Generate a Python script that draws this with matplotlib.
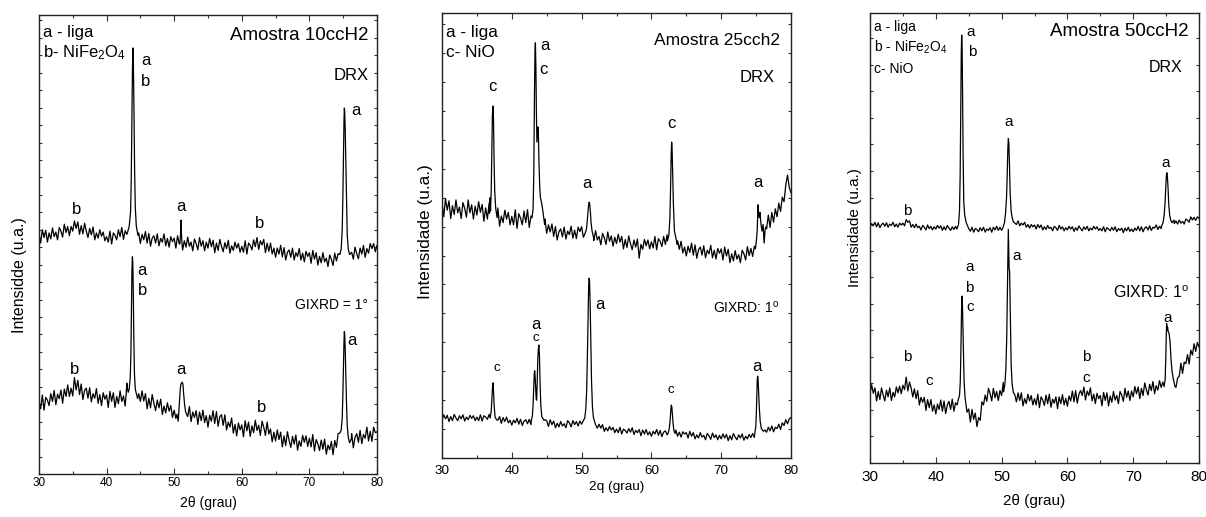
import numpy as np
import matplotlib
matplotlib.use("Agg")
import matplotlib.pyplot as plt
from matplotlib.ticker import MultipleLocator

plt.rcParams['font.family'] = ['Liberation Sans', 'DejaVu Sans']
plt.rcParams['mathtext.fontset'] = 'custom'
plt.rcParams['mathtext.rm'] = 'Liberation Sans'
plt.rcParams['mathtext.it'] = 'Liberation Sans:italic'
plt.rcParams['mathtext.bf'] = 'Liberation Sans:bold'

# ---------------- data ----------------
# background samples every 0.25 deg from 30 to 80 (2theta), intensity in arbitrary units
GRID_START = 30.0
GRID_STEP = 0.25

# Panel 1 - Amostra 10ccH2, DRX (upper trace)
p1_drx_bg = [
    52.4, 50.3, 53.2, 51.5, 53.1, 50.5, 52.5, 51.2, 53.6, 51.7, 52.7, 51.0, 53.7, 52.9, 51.6, 54.4, 52.6, 53.9, 51.9, 53.9,
    52.9, 55.1, 53.5, 54.9, 52.2, 54.1, 52.3, 54.6, 52.9, 51.5, 53.5, 52.1, 53.8, 51.0, 52.5, 51.4, 53.2, 51.8, 52.7, 50.8,
    51.7, 50.5, 52.9, 50.1, 52.5, 52.0, 51.0, 53.2, 51.7, 53.7, 51.1, 53.0, 52.2, 53.0, 53.0, 53.0, 53.0, 53.0, 53.0, 52.5,
    50.2, 52.2, 51.0, 52.8, 50.3, 52.4, 49.6, 51.4, 51.9, 50.3, 52.3, 49.7, 51.3, 50.5, 52.3, 49.7, 51.3, 49.4, 51.7, 50.6,
    51.4, 49.2, 51.9, 50.1, 51.6, 48.8, 50.8, 49.4, 51.6, 49.6, 50.5, 48.6, 51.2, 50.2, 48.8, 51.5, 49.6, 50.8, 48.6, 50.5,
    49.2, 51.3, 49.5, 50.9, 48.2, 50.3, 48.7, 51.1, 49.6, 48.4, 50.4, 49.1, 50.9, 48.1, 49.7, 48.7, 50.5, 49.2, 50.2, 48.3,
    49.6, 48.3, 50.8, 47.9, 50.3, 49.8, 48.8, 51.0, 49.5, 51.5, 48.9, 50.8, 49.9, 51.1, 48.2, 50.3, 48.5, 50.3, 47.9, 49.2,
    47.2, 49.2, 47.9, 49.8, 47.3, 49.3, 46.6, 48.3, 48.8, 47.2, 49.2, 46.6, 48.2, 47.4, 49.1, 46.6, 48.1, 46.2, 48.5, 47.4,
    48.2, 45.9, 48.7, 46.8, 48.2, 45.5, 47.4, 46.0, 48.2, 46.2, 47.0, 45.2, 47.7, 46.8, 45.4, 48.1, 46.4, 48.0, 48.0, 49.0,
    48.5, 50.0, 52.0, 48.0, 47.3, 48.3, 46.8, 49.4, 48.0, 46.9, 49.2, 47.9, 49.8, 47.2, 49.1, 48.1, 50.2, 49.1, 50.2, 48.4,
    49.8,
]
p1_drx_peaks = [
    ([43.1, 43.35, 43.55, 43.65, 43.75, 43.83, 43.9, 43.97, 44.05, 44.15, 44.25, 44.4, 44.65],
     [52.6, 54.0, 57.0, 64.0, 78.0, 88.0, 92.8, 89.0, 80.0, 66.0, 58.0, 54.0, 52.0]),
    ([50.85, 50.95, 51.0, 51.05, 51.15],
     [50.2, 52.5, 55.3, 53.0, 50.4]),
    ([74.5, 74.7, 74.85, 74.95, 75.05, 75.12, 75.17, 75.22, 75.3, 75.4, 75.5, 75.6, 75.75, 75.95, 76.2],
     [47.8, 49.0, 53.0, 60.0, 70.0, 77.0, 79.7, 79.0, 75.0, 67.0, 58.0, 52.0, 49.0, 47.8, 48.2]),
]

# Panel 1 - GIXRD = 1 deg (lower trace)
p1_gix_bg = [
    15.8, 14.2, 17.2, 13.9, 16.7, 16.1, 14.9, 17.5, 15.8, 18.2, 15.1, 17.4, 16.4, 18.3, 15.4, 18.5, 16.9, 19.4, 16.9, 18.7,
    17.0, 21.0, 18.3, 20.4, 17.3, 19.6, 16.2, 18.2, 18.7, 16.5, 18.8, 15.7, 17.5, 16.5, 18.6, 15.4, 17.3, 14.9, 17.7, 16.3,
    17.2, 14.5, 18.0, 15.8, 17.7, 14.5, 16.9, 15.3, 18.1, 15.8, 17.0, 14.8, 17.0, 17.0, 17.0, 17.0, 17.0, 17.0, 17.0, 17.5,
    15.8, 18.1, 15.9, 17.5, 14.2, 16.5, 14.4, 17.3, 15.4, 13.8, 16.1, 14.4, 16.3, 13.0, 14.8, 13.3, 15.5, 13.7, 14.9, 12.3,
    13.9, 12.1, 15.0, 17.0, 19.0, 19.5, 19.0, 17.0, 12.5, 14.7, 11.4, 13.5, 12.3, 13.8, 10.8, 13.5, 11.6, 13.9, 11.2, 12.7,
    10.2, 12.8, 11.5, 13.8, 11.0, 13.6, 10.4, 12.5, 12.9, 10.6, 12.9, 9.6, 11.3, 10.2, 12.2, 8.9, 10.8, 8.3, 11.1, 9.6,
    10.7, 8.1, 11.6, 9.4, 11.3, 8.2, 10.5, 9.0, 11.7, 9.5, 10.6, 8.4, 11.5, 10.2, 8.4, 11.3, 8.7, 9.8, 7.0, 9.1,
    7.2, 9.6, 7.5, 9.1, 5.9, 8.3, 6.2, 9.2, 7.3, 5.8, 8.2, 6.5, 8.5, 5.2, 7.2, 6.0, 8.4, 6.9, 8.3, 6.0,
    7.8, 5.9, 8.6, 5.0, 7.5, 6.6, 5.1, 7.4, 5.4, 7.6, 4.3, 6.3, 5.3, 7.1, 4.2, 7.3, 5.8, 8.8, 9.0, 9.0,
    12.0, 20.0, 30.0, 20.0, 9.0, 8.8, 5.7, 8.0, 8.8, 6.9, 9.5, 6.6, 8.6, 7.8, 10.2, 7.2, 9.3, 7.1, 10.2, 9.0,
    9.2,
]
p1_gix_peaks = [
    ([42.9, 43.0, 43.1, 43.2, 43.35, 43.5, 43.6, 43.68, 43.75, 43.82, 43.88, 43.95, 44.03, 44.12, 44.25, 44.4, 44.6],
     [17.5, 19.8, 18.5, 17.8, 18.5, 21.0, 26.0, 36.0, 44.0, 47.3, 46.0, 40.0, 30.0, 22.0, 18.5, 17.5, 16.4]),
    ([50.4, 50.6, 50.8, 50.9, 51.0, 51.1, 51.2, 51.3, 51.4, 51.55, 51.7, 51.9],
     [13.0, 11.5, 16.0, 18.5, 19.6, 19.8, 20.0, 19.5, 17.5, 15.0, 13.5, 12.8]),
    ([74.5, 74.7, 74.85, 74.95, 75.05, 75.12, 75.17, 75.22, 75.3, 75.4, 75.5, 75.6, 75.75, 75.95, 76.2],
     [8.9, 9.5, 12.0, 17.0, 24.0, 29.0, 31.0, 30.5, 27.0, 21.0, 15.0, 10.5, 8.0, 6.8, 7.6]),
]

# Panel 2 - Amostra 25cch2, DRX
p2_drx_bg = [
    57.5, 54.2, 58.3, 55.7, 57.8, 53.8, 56.7, 54.7, 58.0, 55.1, 56.4, 53.8, 57.4, 56.1, 54.1, 58.0, 55.1, 56.9, 53.7, 56.6,
    54.6, 57.6, 55.2, 57.0, 53.2, 56.2, 53.7, 57.3, 60.0, 70.0, 75.0, 62.0, 56.2, 52.1, 54.4, 52.9, 55.7, 53.7, 55.2, 52.4,
    54.3, 52.4, 55.8, 51.6, 54.9, 53.9, 52.4, 55.5, 52.9, 55.8, 51.8, 54.4, 55.5, 60.0, 80.0, 72.0, 65.0, 60.0, 57.0, 53.7,
    50.5, 52.4, 50.8, 52.6, 49.8, 52.0, 49.0, 50.8, 51.5, 49.7, 51.9, 49.2, 51.0, 50.2, 52.1, 49.4, 51.2, 49.3, 51.9, 50.9,
    52.0, 49.6, 53.0, 56.0, 57.0, 54.0, 51.0, 48.9, 51.1, 49.0, 49.8, 47.9, 50.5, 49.5, 48.0, 50.8, 48.7, 49.9, 47.6, 49.6,
    48.2, 50.3, 48.5, 49.8, 47.0, 49.1, 47.3, 49.9, 48.2, 46.8, 49.0, 47.4, 49.2, 44.9, 48.0, 46.9, 49.1, 47.7, 49.0, 47.0,
    48.6, 47.2, 49.8, 46.8, 49.3, 48.7, 47.5, 49.8, 48.0, 50.2, 60.0, 70.0, 60.0, 50.0, 49.0, 48.8, 46.9, 48.7, 46.1, 47.4,
    45.4, 47.6, 46.2, 48.3, 45.6, 47.9, 44.9, 46.8, 47.4, 45.6, 47.7, 45.0, 46.7, 45.9, 47.8, 45.0, 46.7, 44.7, 47.1, 46.0,
    47.0, 44.5, 47.4, 45.4, 46.9, 43.9, 45.9, 44.3, 46.6, 44.7, 45.7, 43.9, 46.7, 45.9, 44.5, 47.5, 45.5, 47.1, 45.3, 47.6,
    48.0, 52.0, 56.0, 53.0, 52.0, 50.0, 51.5, 54.6, 51.8, 55.2, 53.0, 56.0, 54.2, 57.3, 55.4, 58.6, 57.6, 61.4, 63.6, 60.8,
    59.6,
]
p2_drx_peaks = [
    ([36.8, 36.88, 36.95, 37.05, 37.15, 37.22, 37.3, 37.38, 37.46, 37.55, 37.7, 37.9],
     [55.0, 58.5, 55.5, 60.0, 70.0, 77.0, 79.1, 76.0, 67.0, 60.0, 56.0, 54.0]),
    ([42.9, 43.05, 43.15, 43.25, 43.32, 43.38, 43.45, 43.52, 43.6, 43.68, 43.75, 43.82, 43.9, 44.0, 44.1, 44.25, 44.45, 44.7],
     [54.0, 56.0, 64.0, 82.0, 91.0, 93.3, 88.0, 78.0, 71.0, 73.0, 74.4, 72.0, 66.0, 61.0, 58.5, 57.5, 55.5, 52.5]),
    ([50.5, 50.7, 50.85, 50.98, 51.08, 51.16, 51.25, 51.35, 51.5, 51.7],
     [50.5, 51.5, 54.0, 56.5, 57.5, 57.0, 55.5, 53.0, 51.0, 49.6]),
    ([62.3, 62.5, 62.65, 62.75, 62.83, 62.9, 62.97, 63.05, 63.15, 63.3, 63.5, 63.7],
     [48.8, 50.0, 54.0, 61.0, 68.0, 71.0, 69.0, 64.0, 57.0, 51.0, 49.5, 48.0]),
    ([74.9, 75.05, 75.15, 75.22, 75.28, 75.35, 75.45, 75.55, 75.7, 75.85, 76.0, 76.15, 76.3, 76.45],
     [47.0, 49.0, 51.0, 54.0, 56.9, 55.0, 54.0, 55.2, 52.5, 51.0, 52.5, 48.3, 51.5, 52.0]),
]

# Panel 2 - GIXRD: 1 deg
p2_gix_bg = [
    8.6, 9.7, 8.8, 9.6, 8.2, 9.3, 8.4, 9.8, 9.0, 8.4, 9.5, 8.8, 9.7, 8.3, 9.2, 8.6, 9.6, 8.9, 9.5, 8.4,
    9.2, 8.4, 9.7, 8.3, 9.5, 9.2, 8.7, 9.8, 12.0, 16.9, 12.0, 8.7, 8.5, 9.3, 7.8, 9.1, 8.2, 9.2, 7.9, 8.5,
    7.4, 8.5, 7.9, 8.9, 7.6, 8.7, 7.3, 8.3, 8.6, 7.7, 8.7, 7.5, 8.6, 12.0, 19.0, 13.0, 25.0, 15.0, 9.5, 8.6,
    8.4, 7.1, 8.6, 7.5, 8.3, 6.8, 7.8, 7.0, 8.2, 7.2, 7.7, 6.8, 8.4, 7.9, 7.0, 8.4, 7.5, 8.2, 7.2, 8.3,
    7.6, 8.6, 9.5, 20.0, 40.0, 25.0, 12.0, 8.4, 7.5, 6.7, 7.6, 6.7, 7.5, 6.0, 6.8, 6.1, 7.1, 6.3, 6.9, 5.7,
    6.5, 5.7, 6.9, 5.4, 6.5, 6.2, 5.6, 6.6, 5.8, 6.8, 5.3, 6.2, 5.7, 6.4, 5.0, 6.3, 5.4, 6.4, 5.2, 5.9,
    4.9, 6.0, 5.4, 6.4, 5.1, 6.2, 4.8, 5.8, 6.1, 5.2, 7.0, 12.0, 8.0, 5.6, 6.3, 4.9, 5.8, 4.7, 5.9, 5.4,
    5.7, 4.5, 6.0, 4.9, 5.7, 4.3, 5.2, 4.5, 5.7, 4.7, 5.1, 4.1, 5.5, 5.0, 4.2, 5.6, 4.6, 5.2, 4.1, 5.1,
    4.3, 5.4, 4.5, 5.3, 3.9, 5.0, 4.1, 5.5, 4.7, 4.1, 5.2, 4.5, 5.4, 4.0, 4.9, 4.3, 5.3, 4.6, 5.5, 4.6,
    8.0, 18.0, 14.0, 7.0, 6.4, 6.3, 5.8, 6.9, 6.1, 7.2, 5.9, 6.9, 6.6, 7.6, 6.4, 7.9, 7.3, 8.6, 7.7, 8.8,
    9.1,
]
p2_gix_peaks = [
    ([36.9, 37.05, 37.15, 37.25, 37.31, 37.38, 37.48, 37.6, 37.8],
     [9.0, 10.5, 13.5, 16.2, 16.9, 15.0, 11.5, 9.3, 8.6]),
    ([42.8, 42.95, 43.05, 43.15, 43.22, 43.28, 43.35, 43.42, 43.5, 43.56, 43.64, 43.72, 43.8, 43.88, 43.96, 44.05, 44.15, 44.3, 44.6],
     [8.5, 9.5, 12.0, 16.5, 19.0, 19.6, 18.0, 15.5, 13.2, 13.0, 17.0, 22.0, 24.5, 25.4, 23.0, 17.0, 12.0, 9.3, 8.5]),
    ([50.2, 50.45, 50.6, 50.72, 50.82, 50.92, 51.0, 51.07, 51.13, 51.22, 51.32, 51.42, 51.55, 51.7, 51.95],
     [8.2, 9.0, 11.0, 15.0, 22.0, 31.0, 38.0, 40.4, 40.0, 35.0, 26.0, 17.5, 11.5, 9.0, 7.8]),
    ([62.4, 62.55, 62.68, 62.77, 62.85, 62.92, 63.0, 63.1, 63.22, 63.4],
     [5.6, 6.5, 8.5, 10.5, 11.9, 11.5, 10.0, 7.8, 6.2, 5.5]),
    ([74.8, 74.95, 75.03, 75.1, 75.16, 75.22, 75.28, 75.36, 75.45, 75.58, 75.75, 76.05],
     [5.5, 7.0, 10.0, 14.0, 17.5, 18.4, 17.8, 15.0, 11.5, 8.3, 6.6, 6.0]),
]

# Panel 3 - Amostra 50ccH2, DRX
p3_drx_bg = [
    52.4, 53.2, 52.7, 53.5, 52.5, 53.4, 52.3, 53.0, 53.3, 52.6, 53.4, 52.4, 53.1, 52.8, 53.5, 52.5, 53.1, 52.4, 53.3, 52.9,
    53.3, 52.7, 54.1, 53.5, 53.8, 52.4, 53.0, 52.3, 53.1, 52.3, 52.6, 51.8, 52.8, 52.4, 51.8, 52.9, 52.1, 52.6, 51.8, 52.5,
    52.0, 52.8, 52.2, 52.7, 51.7, 52.5, 51.8, 52.8, 52.2, 51.7, 52.5, 51.9, 52.6, 55.0, 70.0, 90.0, 75.0, 57.0, 54.0, 53.0,
    52.1, 51.5, 52.4, 51.3, 52.1, 51.9, 51.4, 52.3, 51.6, 52.4, 51.3, 52.0, 51.7, 52.3, 51.3, 52.4, 51.8, 52.6, 51.7, 52.4,
    51.7, 52.8, 55.0, 62.0, 72.0, 65.0, 56.0, 54.0, 53.5, 53.0, 53.8, 52.7, 53.3, 52.9, 53.5, 52.4, 53.0, 52.2, 53.0, 52.5,
    52.9, 52.0, 53.0, 52.3, 52.9, 51.8, 52.5, 51.9, 52.8, 52.1, 52.4, 51.6, 52.6, 52.3, 51.7, 52.8, 52.0, 52.5, 51.6, 52.3,
    51.8, 52.6, 52.0, 52.5, 51.5, 52.3, 51.7, 52.7, 52.1, 51.6, 52.5, 51.9, 52.6, 51.6, 52.2, 51.8, 52.6, 52.0, 52.5, 51.7,
    52.1, 51.6, 52.5, 51.4, 52.3, 52.0, 51.6, 52.4, 51.7, 52.5, 51.4, 52.1, 51.7, 52.2, 51.2, 52.2, 51.6, 52.4, 51.5, 52.0,
    51.4, 52.2, 51.7, 52.6, 51.6, 52.5, 51.4, 52.2, 52.5, 51.8, 52.7, 51.7, 52.4, 52.2, 52.9, 51.9, 52.6, 52.1, 60.0, 60.0,
    56.0, 54.5, 54.0, 53.5, 54.0, 53.2, 53.8, 53.1, 54.0, 53.3, 53.7, 53.1, 54.2, 54.0, 53.5, 54.7, 54.0, 54.6, 53.9, 54.7,
    54.4,
]
p3_drx_peaks = [
    ([43.2, 43.45, 43.6, 43.7, 43.8, 43.87, 43.93, 44.0, 44.07, 44.15, 44.25, 44.4, 44.6, 44.8],
     [52.0, 53.0, 56.0, 64.0, 80.0, 91.0, 95.1, 92.0, 82.0, 68.0, 58.0, 55.0, 53.5, 52.8]),
    ([50.2, 50.45, 50.6, 50.75, 50.85, 50.95, 51.03, 51.1, 51.2, 51.3, 51.45, 51.6, 51.8, 52.1],
     [52.3, 53.5, 55.5, 59.0, 64.0, 70.0, 72.1, 71.0, 66.0, 60.0, 56.0, 54.5, 53.6, 53.2]),
    ([74.3, 74.55, 74.7, 74.85, 74.95, 75.05, 75.12, 75.2, 75.3, 75.4, 75.55, 75.7, 75.9, 76.2],
     [52.6, 53.5, 55.0, 58.0, 61.5, 64.0, 64.5, 63.5, 61.0, 57.5, 55.0, 54.0, 53.4, 54.0]),
]

# Panel 3 - GIXRD: 1 deg
p3_gix_bg = [
    15.4, 17.4, 15.5, 16.7, 13.8, 15.9, 14.1, 16.7, 15.1, 13.8, 16.2, 14.7, 16.7, 13.9, 15.7, 14.7, 16.9, 15.6, 17.1, 15.4,
    17.3, 16.3, 19.1, 16.0, 18.0, 16.7, 14.7, 16.5, 14.3, 16.1, 12.9, 14.6, 13.5, 14.6, 11.7, 14.1, 12.3, 14.1, 11.5, 12.9,
    10.9, 13.1, 11.9, 14.0, 11.5, 13.8, 11.0, 12.9, 13.7, 11.9, 14.2, 11.5, 13.4, 12.9, 20.0, 37.0, 25.0, 14.0, 12.5, 11.8,
    12.0, 9.1, 11.9, 9.7, 11.1, 8.1, 10.1, 9.5, 13.6, 12.9, 15.1, 13.7, 16.6, 15.5, 13.8, 16.6, 14.5, 15.9, 13.9, 16.1,
    15.0, 17.9, 18.0, 30.0, 50.0, 43.0, 30.0, 15.0, 14.9, 13.6, 15.6, 13.9, 15.6, 12.7, 14.3, 13.2, 15.3, 13.8, 15.0, 12.9,
    14.3, 12.9, 15.3, 12.3, 14.7, 14.0, 12.8, 15.1, 13.2, 15.3, 12.4, 14.2, 13.3, 14.7, 12.1, 14.7, 13.2, 15.2, 12.9, 14.4,
    12.6, 14.9, 13.8, 16.0, 13.6, 16.1, 13.3, 15.3, 16.1, 15.0, 16.9, 14.0, 16.0, 15.0, 16.7, 13.8, 15.3, 13.2, 15.5, 14.3,
    15.0, 12.7, 15.7, 13.9, 15.6, 12.7, 14.9, 13.5, 15.9, 14.0, 15.0, 13.2, 15.9, 15.1, 13.7, 16.6, 14.6, 16.0, 13.9, 16.0,
    14.7, 17.0, 15.4, 16.9, 14.3, 16.6, 15.0, 17.8, 16.3, 15.1, 17.5, 16.1, 18.1, 15.4, 17.2, 16.2, 18.3, 16.8, 18.0, 17.0,
    25.0, 30.0, 28.0, 22.0, 19.0, 18.5, 16.8, 18.9, 19.3, 22.2, 19.9, 22.4, 22.1, 24.1, 22.0, 25.1, 24.0, 26.5, 24.8, 26.8,
    25.8,
]
p3_gix_peaks = [
    ([43.4, 43.6, 43.72, 43.8, 43.87, 43.93, 43.98, 44.05, 44.12, 44.2, 44.3, 44.45, 44.6, 44.75],
     [14.0, 15.0, 18.0, 24.0, 31.0, 35.5, 37.1, 35.0, 30.0, 24.0, 18.0, 14.5, 12.8, 11.3]),
    ([50.3, 50.5, 50.65, 50.78, 50.88, 50.96, 51.02, 51.08, 51.14, 51.22, 51.32, 51.45, 51.6, 51.8, 52.0],
     [15.8, 17.5, 21.0, 28.0, 38.0, 47.0, 51.9, 47.0, 43.3, 42.5, 33.0, 22.0, 17.5, 15.6, 15.2]),
    ([74.7, 74.85, 74.95, 75.02, 75.08, 75.14, 75.22, 75.32, 75.45, 75.6, 75.75, 75.9, 76.05, 76.2, 76.35],
     [17.0, 18.5, 23.0, 28.0, 31.0, 29.5, 30.2, 29.2, 28.8, 27.0, 23.0, 20.5, 19.0, 18.0, 17.0]),
]

# texts
x_ticks = [30, 40, 50, 60, 70, 80]
p1_legend = ["a - liga", "b- NiFe$_2$O$_4$"]
p2_legend = ["a - liga", "c- NiO"]
p3_legend = ["a - liga", "b - NiFe$_2$O$_4$", "c- NiO"]
titles = ["Amostra 10ccH2", "Amostra 25cch2", "Amostra 50ccH2"]
gix_texts = ["GIXRD = 1\u00b0", "GIXRD: 1$^\\mathregular{o}$", "GIXRD: 1$^\\mathregular{o}$"]
xlabels = ["2\u03b8 (grau)", "2q (grau)", "2\u03b8 (grau)"]
ylabels = ["Intensidde (u.a.)", "Intensidade (u.a.)", "Intensidade (u.a.)"]

# peak labels: (2theta, intensity, letter, small?)
p1_marks = [(45.8, 90.0, "a", 0), (45.8, 85.4, "b", 0), (76.9, 79.1, "a", 0),
            (35.6, 57.7, "b", 0), (51.0, 58.2, "a", 0), (62.7, 54.5, "b", 0),
            (45.3, 44.4, "a", 0), (45.3, 39.9, "b", 0), (76.35, 29.0, "a", 0),
            (35.2, 22.7, "b", 0), (51.0, 22.7, "a", 0), (62.9, 14.4, "b", 0)]
p2_marks = [(37.16, 83.6, "c", 0), (44.7, 92.8, "a", 0), (44.5, 87.2, "c", 0),
            (50.8, 61.7, "a", 0), (62.9, 75.1, "c", 0), (75.3, 61.9, "a", 0),
            (52.6, 34.6, "a", 0), (43.4, 30.1, "a", 0), (43.4, 26.9, "c", 1),
            (37.8, 20.2, "c", 1), (62.8, 15.3, "c", 1), (75.1, 20.5, "a", 0)]
p3_marks = [(45.25, 95.7, "a", 0), (45.6, 91.3, "b", 0), (51.0, 75.8, "a", 0),
            (74.94, 66.7, "a", 0), (35.6, 56.1, "b", 0), (52.3, 46.0, "a", 0),
            (45.1, 43.6, "a", 0), (45.1, 39.0, "b", 0), (45.2, 34.7, "c", 0),
            (75.3, 32.2, "a", 0), (35.6, 23.5, "b", 0), (39.0, 18.2, "c", 0),
            (62.8, 23.5, "b", 0), (62.8, 18.8, "c", 0)]


def trace(bg, peaks):
    x = GRID_START + GRID_STEP * np.arange(len(bg))
    y = np.asarray(bg, float)
    keep = np.ones(len(x), bool)
    for px, py in peaks:
        keep &= ~((x >= min(px) - 1e-9) & (x <= max(px) + 1e-9))
    X = np.concatenate([x[keep]] + [np.asarray(p[0], float) for p in peaks])
    Y = np.concatenate([y[keep]] + [np.asarray(p[1], float) for p in peaks])
    o = np.argsort(X, kind="stable")
    return X[o], Y[o]


fig = plt.figure(figsize=(12.06, 5.17), dpi=100)
fig.patch.set_facecolor("white")

axes_rects = [[0.0323, 0.0832, 0.2803, 0.888],
              [0.3665, 0.1141, 0.2894, 0.8607],
              [0.7214, 0.1044, 0.2728, 0.8704]]

cfg = [
    dict(curves=[(p1_drx_bg, p1_drx_peaks), (p1_gix_bg, p1_gix_peaks)], legend=p1_legend,
         leg_y=[0.961, 0.917], leg_fs=12, title_xy=(0.976, 0.956), title_fs=13.5,
         drx_xy=(0.976, 0.869), drx_fs=12, gix_xy=(0.973, 0.368), gix_fs=10,
         marks=p1_marks, mark_fs=12, small_fs=9.5, tick_fs=8.5, tick_pad=2.5,
         xl_fs=10, xl_y=-0.048, yl_fs=11.5, yl_xy=(-0.036, 0.434), ystep=3.8),
    dict(curves=[(p2_drx_bg, p2_drx_peaks), (p2_gix_bg, p2_gix_peaks)], legend=p2_legend,
         leg_y=[0.957, 0.912], leg_fs=12.4, title_xy=(0.968, 0.939), title_fs=12.5,
         drx_xy=(0.954, 0.854), drx_fs=12, gix_xy=(0.968, 0.337), gix_fs=10,
         marks=p2_marks, mark_fs=12, small_fs=9.5, tick_fs=9.7, tick_pad=5,
         xl_fs=9.7, xl_y=-0.052, yl_fs=12.4, yl_xy=(-0.026, 0.508), ystep=6.5),
    dict(curves=[(p3_drx_bg, p3_drx_peaks), (p3_gix_bg, p3_gix_peaks)], legend=p3_legend,
         leg_y=[0.968, 0.924, 0.876], leg_fs=10, title_xy=(0.967, 0.959), title_fs=13.5,
         drx_xy=(0.950, 0.878), drx_fs=11.5, gix_xy=(0.971, 0.378), gix_fs=11.5,
         marks=p3_marks, mark_fs=11, small_fs=9.5, tick_fs=11, tick_pad=4.7,
         xl_fs=11, xl_y=-0.069, yl_fs=11, yl_xy=(-0.024, 0.524), ystep=5.9),
]

for i, (rect, c) in enumerate(zip(axes_rects, cfg)):
    ax = fig.add_axes(rect)
    for bg, pk in c["curves"]:
        X, Y = trace(bg, pk)
        ax.plot(X, Y, color="black", lw=0.9)
    ax.set_xlim(30, 80)
    ax.set_ylim(0, 100)
    ax.set_xticks(x_ticks)
    ax.xaxis.set_minor_locator(MultipleLocator(5))
    ax.yaxis.set_major_locator(MultipleLocator(c["ystep"]))
    ax.set_yticklabels([])
    ax.tick_params(axis="both", which="both", direction="in", top=True, right=True,
                   color="#333333", width=0.8)
    ax.tick_params(axis="x", which="major", length=4, labelsize=c["tick_fs"], pad=c["tick_pad"])
    ax.tick_params(axis="x", which="minor", length=2.5)
    ax.tick_params(axis="y", which="major", length=2.5)
    for s in ax.spines.values():
        s.set_linewidth(1.0)
        s.set_color("#222222")
    ax.set_xlabel(xlabels[i], fontsize=c["xl_fs"])
    ax.xaxis.set_label_coords(0.5, c["xl_y"])
    ax.set_ylabel(ylabels[i], fontsize=c["yl_fs"])
    ax.yaxis.set_label_coords(*c["yl_xy"])
    for txt, yy in zip(c["legend"], c["leg_y"]):
        ax.text(0.012, yy, txt, transform=ax.transAxes, ha="left", va="center",
                fontsize=c["leg_fs"])
    ax.text(*c["title_xy"], titles[i], transform=ax.transAxes, ha="right", va="center",
            fontsize=c["title_fs"])
    ax.text(*c["drx_xy"], "DRX", transform=ax.transAxes, ha="right", va="center",
            fontsize=c["drx_fs"])
    ax.text(*c["gix_xy"], gix_texts[i], transform=ax.transAxes, ha="right", va="center",
            fontsize=c["gix_fs"])
    for mx, my, letter, small in c["marks"]:
        ax.text(mx, my, letter, ha="center", va="center",
                fontsize=c["small_fs"] if small else c["mark_fs"])

fig.savefig("out.png", dpi=100, facecolor="white")
